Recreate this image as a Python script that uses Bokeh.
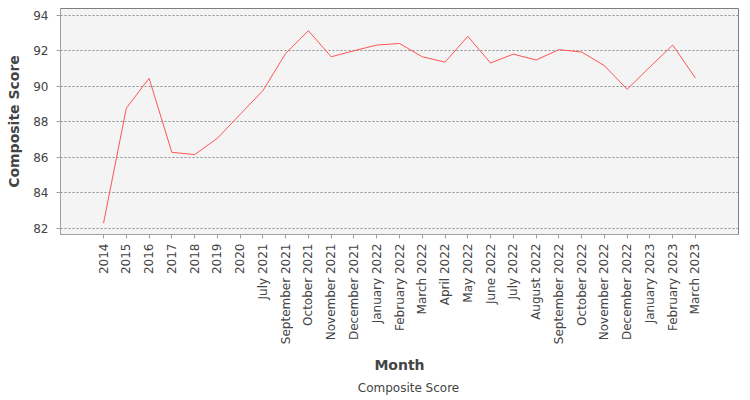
from math import pi

from bokeh.embed import file_html
from bokeh.layouts import column
from bokeh.models import (CDSView, ColumnDataSource, FactorRange, FixedTicker,
                          IndexFilter, Legend, LegendItem, Range1d)
from bokeh.plotting import figure
from bokeh.resources import INLINE

# data
months = ["2014", "2015", "2016", "2017", "2018", "2019", "2020",
          "July 2021", "September 2021", "October 2021", "November 2021",
          "December 2021", "January 2022", "February 2022", "March 2022",
          "April 2022", "May 2022", "June 2022", "July 2022", "August 2022",
          "September 2022", "October 2022", "November 2022", "December 2022",
          "January 2023", "February 2023", "March 2023"]
scores = [82.30, 88.77, 90.46, 86.29, 86.16, 87.08, 88.43,
          89.76, 91.86, 93.14, 91.67,
          92.01, 92.33, 92.42, 91.67,
          91.37, 92.82, 91.32, 91.82, 91.49,
          92.07, 91.94, 91.17, 89.84,
          91.10, 92.33, 90.47]
y_ticks = [82, 84, 86, 88, 90, 92, 94]

FONT = "DejaVu Sans"
RED = "#ff5555"

source = ColumnDataSource(data=dict(month=months, score=scores))
x_range = FactorRange(factors=months, range_padding=0.103)
y_range = Range1d(81.66, 94.39)

p = figure(width=750, height=376, output_backend="svg", toolbar_location=None,
           x_range=x_range, y_range=y_range,
           min_border_left=60, min_border_right=12, min_border_top=8,
           min_border_bottom=142)

p.background_fill_color = "#f4f4f4"
p.border_fill_color = "white"
p.outline_line_color = "#808080"
p.outline_line_width = 1

p.line("month", "score", source=source, line_color=RED, line_width=1)

# grid
p.xgrid.grid_line_color = None
p.ygrid.grid_line_color = "#8c8c8c"
p.ygrid.grid_line_dash = "2 2"
p.ygrid.grid_line_width = 1
p.yaxis.ticker = FixedTicker(ticks=y_ticks)

# axes
for ax in (p.xaxis[0], p.yaxis[0]):
    ax.axis_line_color = "#a0a0a0"
    ax.major_tick_line_color = "#a0a0a0"
    ax.major_tick_in = 0
    ax.major_tick_out = 4
    ax.minor_tick_line_color = None
    ax.major_label_text_font = FONT
    ax.major_label_text_font_size = "12px"
    ax.major_label_text_color = "#444444"
    ax.axis_label_text_font = FONT
    ax.axis_label_text_font_size = "14px"
    ax.axis_label_text_font_style = "bold"
    ax.axis_label_text_color = "#444444"

p.xaxis.axis_label = "Month"
p.xaxis.major_label_orientation = pi / 2
p.xaxis.major_label_standoff = 5
p.xaxis.axis_label_standoff = 10

p.yaxis.axis_label = "Composite Score"
p.yaxis.major_label_standoff = 8
p.yaxis.axis_label_standoff = 8

# legend strip under the chart: same series, drawn with an empty view so only
# the legend entry shows
leg = figure(width=750, height=24, output_backend="svg", toolbar_location=None,
             x_range=x_range, y_range=y_range,
             x_axis_location=None, y_axis_location=None, min_border=0)
leg.outline_line_color = None
leg.background_fill_color = "white"
leg.border_fill_color = "white"
leg.xgrid.grid_line_color = None
leg.ygrid.grid_line_color = None
lr = leg.line("month", "score", source=source, line_color=RED, line_width=1,
              view=CDSView(filter=IndexFilter(indices=[])))

legend = Legend(items=[LegendItem(label="Composite Score", renderers=[lr])],
                location="center", orientation="horizontal",
                label_text_font=FONT, label_text_font_size="12px",
                label_text_color="#444444", glyph_width=16, glyph_height=12,
                label_height=12, border_line_color=None,
                background_fill_alpha=0, padding=0, margin=0,
                label_standoff=3)
leg.add_layout(legend, "center")

layout = column(p, leg, spacing=0)

open("out.html", "w").write(file_html(layout, INLINE))
